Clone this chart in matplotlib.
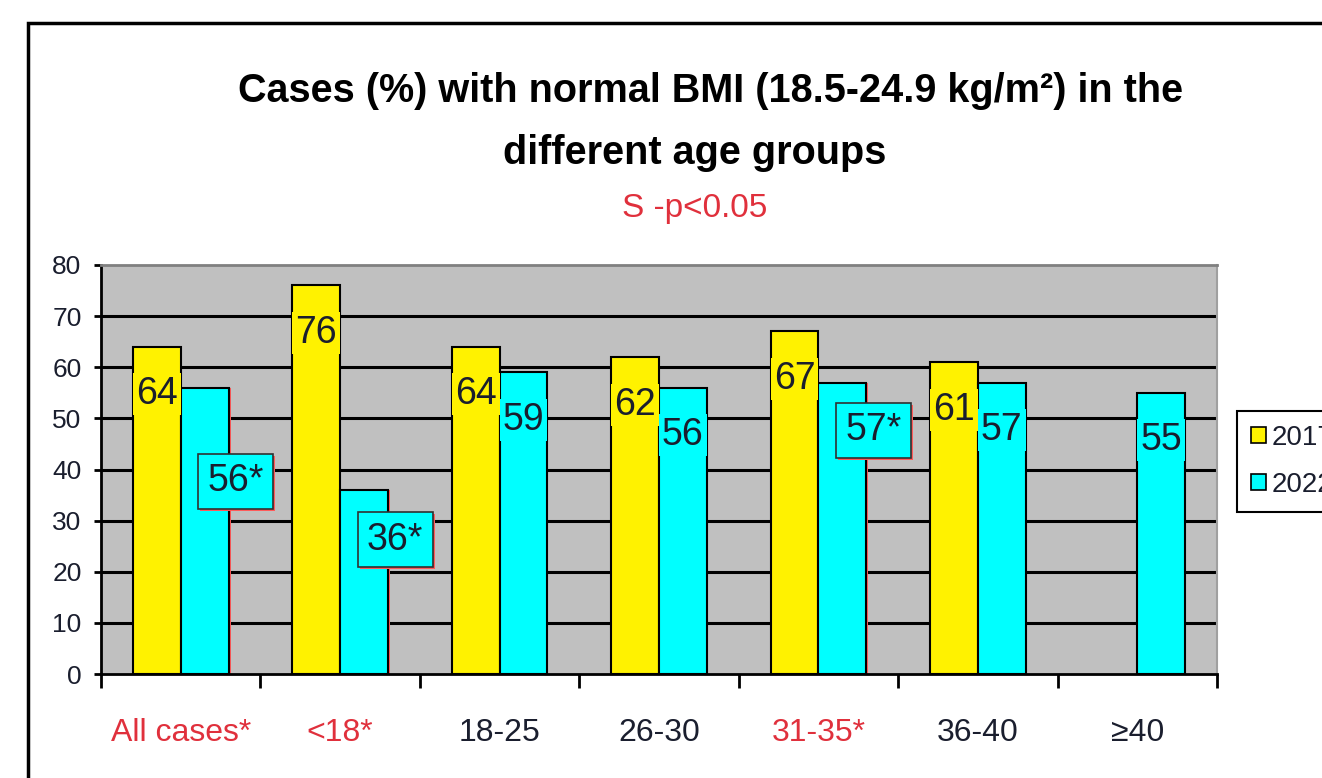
import numpy as np
import matplotlib
matplotlib.use("Agg")
import matplotlib.pyplot as plt
import matplotlib.patheffects as pe
from matplotlib.patches import Patch, Rectangle

# ---------- data ----------
categories = ["All cases*", "<18*", "18-25", "26-30", "31-35*", "36-40", "≥40"]
significant = [True, True, False, False, True, False, False]
values_2017 = [64, 76, 64, 62, 67, 61, np.nan]
values_2022 = [56, 36, 59, 56, 57, 57, 55]
series_names = ["2017", "2022"]
yticks = [0, 10, 20, 30, 40, 50, 60, 70, 80]

title_line1 = "Cases (%) with normal BMI (18.5-24.9 kg/m²) in the"
title_line2 = "different age groups"
subtitle = "S -p<0.05"

# ---------- style ----------
plt.rcParams["font.family"] = ["Liberation Sans Narrow", "Liberation Sans", "DejaVu Sans"]
YELLOW = "#fff200"
CYAN = "#00ffff"
GREY = "#c0c0c0"
RED = "#e0303c"
INK = "#1a1e2e"

W, H = 1322, 778
fig = plt.figure(figsize=(W / 100, H / 100), dpi=100)
fig.patch.set_facecolor("white")

# outer chart frame (runs off the right/bottom like the source)
fig.add_artist(Rectangle((28 / W, -0.1), 1.2, 1 - 23 / H + 0.1, transform=fig.transFigure,
                         fill=False, lw=2.5, ec="black"))

ax = fig.add_axes([101 / W, 1 - 674 / H, (1217 - 101) / W, (674 - 265) / H])
ax.set_facecolor(GREY)

n = len(categories)
x = np.arange(n) + 0.5
w = 0.3

for y in yticks[1:-1]:
    ax.axhline(y, color="black", lw=2.2, zorder=1)

bars17 = ax.bar(x - w / 2, np.nan_to_num(values_2017), w, color=YELLOW, edgecolor="black",
                lw=1.5, zorder=2, label=series_names[0])
bars22 = ax.bar(x + w / 2, values_2022, w, color=CYAN, edgecolor="black",
                lw=1.5, zorder=2, label=series_names[1])
for i, b in enumerate(bars17):
    if np.isnan(values_2017[i]):
        b.set_visible(False)
for i, b in enumerate(bars22):
    if significant[i]:
        b.set_path_effects([pe.SimplePatchShadow(offset=(1.5, 0), shadow_rgbFace="#ff5a5a", alpha=1),
                            pe.Normal()])

# value labels
star_drop = {0: 18.3, 1: 9.7, 4: 9.3}
for i in range(n):
    v = values_2017[i]
    if not np.isnan(v):
        ax.text(x[i] - w / 2, v - 9.3, f"{v:.0f}", ha="center", va="center", fontsize=27,
                color=INK, zorder=4,
                bbox=dict(boxstyle="square,pad=0.08", facecolor=YELLOW, edgecolor="none"))
    v = values_2022[i]
    if significant[i]:
        t = ax.text(x[i] + w / 2 + 0.195, v - star_drop[i], f"{v}*", ha="center", va="center",
                    fontsize=27, color=INK, zorder=5,
                    bbox=dict(boxstyle="square,pad=0.25", facecolor=CYAN, edgecolor="#303030", lw=1.2))
        t.get_bbox_patch().set_path_effects([
            pe.SimplePatchShadow(offset=(1.5, -1.5), shadow_rgbFace="#ff5a5a", alpha=1), pe.Normal()])
    else:
        ax.text(x[i] + w / 2, v - 9.3, f"{v}", ha="center", va="center", fontsize=27,
                color=INK, zorder=4,
                bbox=dict(boxstyle="square,pad=0.08", facecolor=CYAN, edgecolor="none"))

# axes
ax.set_xlim(0, n)
ax.set_ylim(0, 80)
ax.set_yticks(yticks)
ax.tick_params(axis="y", direction="out", length=5, width=2, pad=9, labelsize=19, labelcolor=INK)
ax.set_xticks(np.arange(n + 1))
ax.tick_params(axis="x", direction="out", length=10, width=2, labelbottom=False)
for i, lab in enumerate(categories):
    ax.text(x[i], -0.144, lab, transform=ax.get_xaxis_transform(), ha="center", va="center",
            fontsize=23, color=RED if significant[i] else INK)

ax.spines["left"].set(color="black", lw=2)
ax.spines["bottom"].set(color="black", lw=2)
ax.spines["top"].set(color="#808080", lw=2)
ax.spines["right"].set(color="#a0a0a0", lw=1.5)

# titles
fig.text(711 / W, 1 - 102 / H, title_line1, ha="center", va="baseline", fontsize=28.5,
         fontweight="bold", color="black")
fig.text(695 / W, 1 - 164 / H, title_line2, ha="center", va="baseline", fontsize=28.5,
         fontweight="bold", color="black")
fig.text(695 / W, 1 - 217 / H, subtitle, ha="center", va="baseline", fontsize=24, color=RED)

# legend (cut off by the right edge, as in the source)
handles = [Patch(facecolor=YELLOW, edgecolor="black", lw=1.2),
           Patch(facecolor=CYAN, edgecolor="black", lw=1.2)]
leg = fig.legend(handles, series_names, loc="upper left", bbox_to_anchor=(1237 / W, 1 - 411 / H),
                 borderaxespad=0, fontsize=20, handlelength=0.55, handleheight=0.55,
                 handletextpad=0.2, labelspacing=0.75, borderpad=0.5, fancybox=False, framealpha=1)
leg.get_frame().set_edgecolor("black")
leg.get_frame().set_linewidth(1.5)
for t in leg.get_texts():
    t.set_color(INK)

fig.savefig("out.png", dpi=100)
